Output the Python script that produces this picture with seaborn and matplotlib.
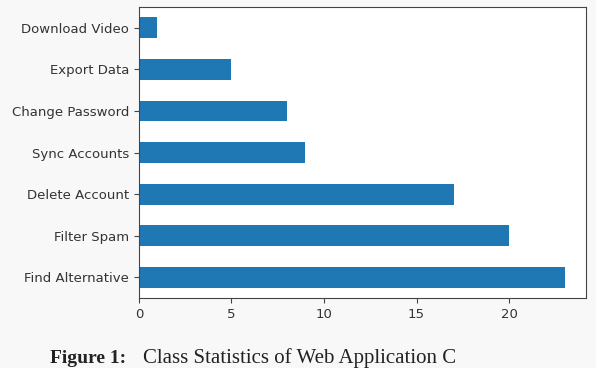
import matplotlib
matplotlib.use("Agg")
import matplotlib.pyplot as plt
import pandas as pd
import seaborn as sns

# categories top to bottom as shown
tasks = ["Download Video", "Export Data", "Change Password", "Sync Accounts",
         "Delete Account", "Filter Spam", "Find Alternative"]
counts = [1, 5, 8, 9, 17, 20, 23]
x_ticks = [0, 5, 10, 15, 20]

caption_bold = "Figure 1:"
caption_rest = "Class Statistics of Web Application C"

df = pd.DataFrame({"task": tasks, "count": counts})

sns.set_style("white")
plt.rcParams["font.family"] = ["DejaVu Sans"]

fig = plt.figure(figsize=(5.96, 3.68), dpi=100, facecolor="#f8f8f8")
ax = fig.add_axes([0.233, 0.190, 0.750, 0.791])
ax.set_facecolor("white")

sns.barplot(data=df, x="count", y="task", order=tasks, color="#1f77b4",
            width=0.5, saturation=1, linewidth=0, ax=ax)

ax.set_xlim(0, 24.15)
ax.set_xticks(x_ticks)
ax.set_xlabel("")
ax.set_ylabel("")
ax.tick_params(axis="both", labelsize=9.5, length=3.5, width=0.8, color="#444444",
               bottom=True, left=True, labelcolor="#333333")
for s in ax.spines.values():
    s.set_color("#444444")
    s.set_linewidth(0.8)

# caption, only its upper part shows in the reference
fig.text(50 / 596, 1 - 363 / 368, caption_bold, fontsize=14, fontweight="bold",
         family="Liberation Serif", va="baseline", ha="left", color="#222222")
fig.text(143 / 596, 1 - 363 / 368, caption_rest, fontsize=15,
         family="Liberation Serif", va="baseline", ha="left", color="#222222")

fig.savefig("out.png", dpi=100, facecolor=fig.get_facecolor())
